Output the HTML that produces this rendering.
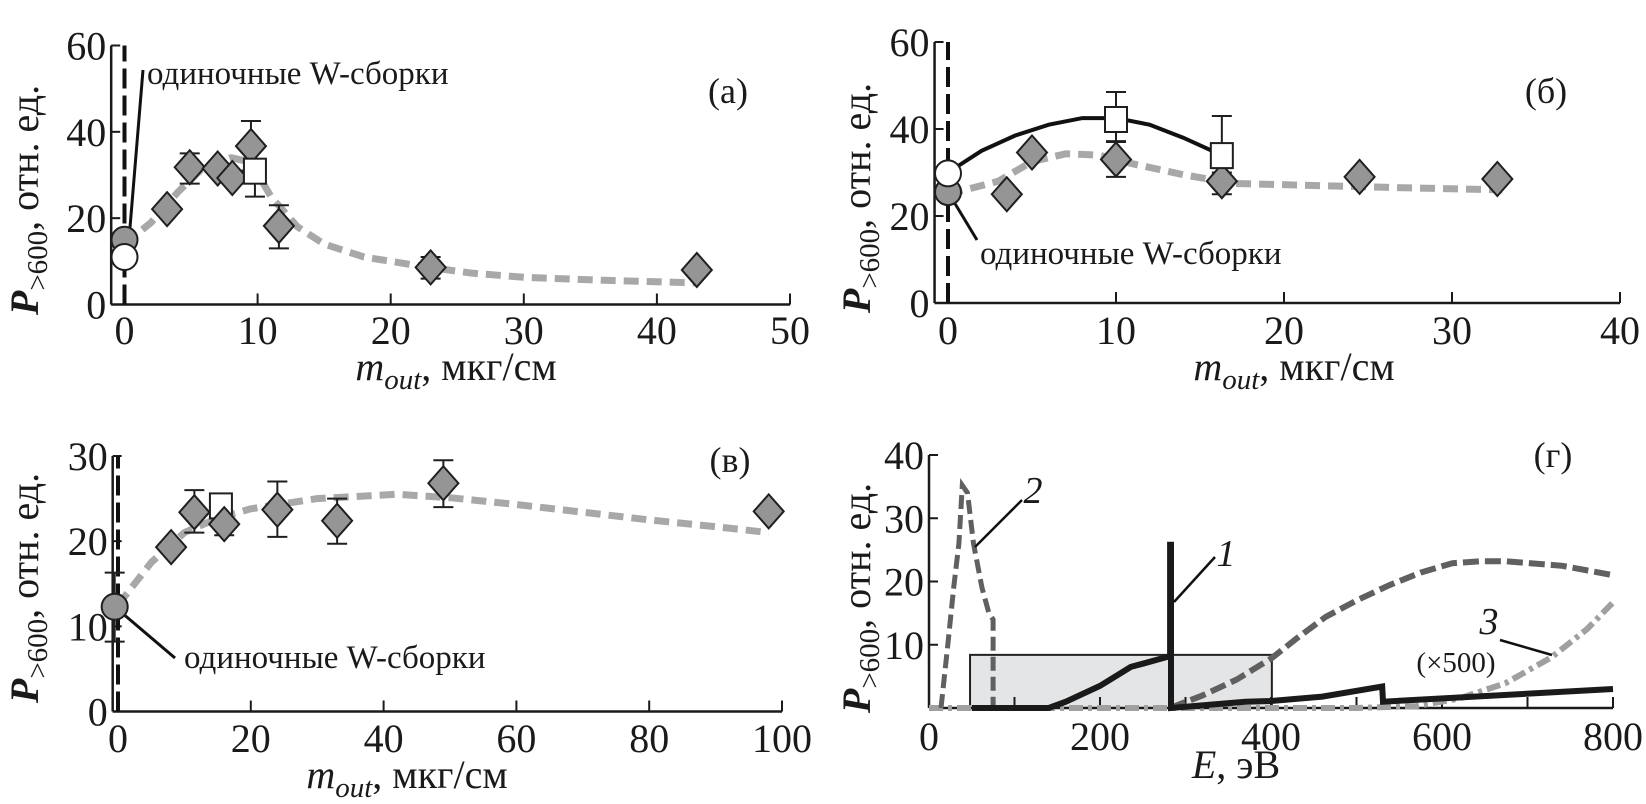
<!DOCTYPE html>
<html><head><meta charset="utf-8">
<style>
html,body{margin:0;padding:0;background:#fff;}
svg{display:block;}
svg text{font-family:"Liberation Serif","DejaVu Serif",serif;}
</style></head>
<body>
<svg id="fig" width="1646" height="804" viewBox="0 0 1646 804" xmlns="http://www.w3.org/2000/svg" font-family="Liberation Serif, DejaVu Serif, serif"></svg>
<script>
// ---- Panel (a) data ----
const aDiamX=[3.2,4.9,7,8.1,9.5,11.6,23,43];
const aDiamY=[22.1,31.8,31.5,29.3,36.7,18.2,8.6,8];
const aDiamErrLo=[null,28,null,null,31,13,6,null];
const aDiamErrHi=[null,35,null,null,42.5,23,11,null];
const aSqX=[9.8]; const aSqY=[31]; const aSqLo=[25]; const aSqHi=[37];
const aCircGrey=[0,15]; const aCircWhite=[0,11];
const aFitX=[0,2,4,6,8,9.5,11,13,15,18,22,26,30,36,43];
const aFitY=[14,19,26,32,34,33,25,18,14,11,9,7.3,6.3,5.6,5];
const aXTicks=[0,10,20,30,40,50]; const aYTicks=[0,20,40,60];
// ---- Panel (б) data ----
const bDiamX=[3.5,5,10,16.3,24.5,32.7];
const bDiamY=[25,34.6,33,28,29,28.5];
const bDiamLo=[null,null,29,25,null,null];
const bDiamHi=[null,null,37.2,31,null,null];
const bSqX=[10,16.3]; const bSqY=[42.3,34]; const bSqLo=[37,30]; const bSqHi=[48.5,43];
const bCircWhite=[0,29.8]; const bCircGrey=[0,25.5];
const bSolidX=[0,2,4,6,8,10,12,14,16];
const bSolidY=[30,35,38.5,41,42.5,42.5,41,38,34.5];
const bFitX=[0,3,5,7,9,11,14,17,22,27,33];
const bFitY=[25,28,32.5,34.3,34,32,29.5,27.5,27,26.5,26];
const bXTicks=[0,10,20,30,40]; const bYTicks=[0,20,40,60];
// ---- Panel (в) data ----
const cDiamX=[8,11.5,16,24,33,49,98];
const cDiamY=[19.3,23.4,22,23.7,22.4,26.8,23.5];
const cDiamLo=[null,21,20.7,20.5,19.7,24,null];
const cDiamHi=[null,26,null,27,25,29.5,null];
const cSqX=[15.5]; const cSqY=[24.2];
const cCirc=[-0.5,12.3]; const cCircLo=[8.2]; const cCircHi=[16.3];
const cFitX=[0,5,10,15,20,30,42,50,60,70,80,90,98];
const cFitY=[12.5,17.5,21,22.7,23.8,25,25.5,25.1,24.3,23.4,22.5,21.7,21];
const cXTicks=[0,20,40,60,80,100]; const cYTicks=[0,10,20,30];
// ---- Panel (г) data ----
const d1X=[50,140,160,200,236,250,282,282,283,283,370,400,460,530,531,800];
const d1Y=[0,0,1,3.5,6.5,7,8.2,25.8,25.8,0,1,1.1,1.8,3.4,1,3];
const d2aX=[14,22,29,35,39,45,52,62,70,75,75];
const d2aY=[0,10,19.2,26,35.2,34,26,19,15,14,0];
const d2bX=[282,320,360,401,430,464,500,538,575,612,645,674,740,800];
const d2bY=[0,2,4.5,7.9,11,14.4,17,19.4,21.4,22.9,23.2,23.2,22.5,21];
const d3X=[0,100,200,300,400,500,570,620,674,728,770,800];
const d3Y=[0,0,0,0,0,0,0.3,1.5,3.9,8,12.5,16.7];
const dRect=[48,401,8.4];
const dXTicks=[0,200,400,600,800]; const dYTicks=[10,20,30,40];

const FONT='"Liberation Serif","DejaVu Serif",serif';
const NS="http://www.w3.org/2000/svg";
const svg=document.getElementById('fig');
function mk(tag,attrs,parent){const e=document.createElementNS(NS,tag);for(const k in attrs)e.setAttribute(k,attrs[k]);(parent||svg).appendChild(e);return e;}
function txt(s,x,y,size,anchor,parent,style){const t=mk('text',{x:x,y:y,'font-size':size,'text-anchor':anchor||'middle',fill:'#1a1a1a'},parent);t.setAttribute('style','font-family:'+FONT+';'+(style||''));t.textContent=s;return t;}
function lin(x0,x1,p0,p1){return v=>p0+(v-x0)*(p1-p0)/(x1-x0);}
function poly(xs,ys,sx,sy){return xs.map((x,i)=>sx(x).toFixed(1)+','+sy(ys[i]).toFixed(1)).join(' ');}

function axes(g,sx,sy,xt,yt,xmin,xmax,ymax,xLabY){
  const x0=sx(xmin),y0=sy(0);
  const xa=mk('line',{x1:x0,y1:y0,x2:sx(xmax),y2:y0,stroke:'#1a1a1a','stroke-width':2.5},g);
  
  const ya=mk('line',{x1:x0,y1:y0,x2:x0,y2:sy(ymax),stroke:'#1a1a1a','stroke-width':2.5},g);
  
  xt.forEach(v=>{
    mk('line',{x1:sx(v),y1:y0,x2:sx(v),y2:y0-11,stroke:'#1a1a1a','stroke-width':2},g);
    const t=txt(String(v),sx(v),xLabY,40,'middle',g);
    
  });
  yt.forEach(v=>{
    mk('line',{x1:x0,y1:sy(v),x2:x0+9,y2:sy(v),stroke:'#1a1a1a','stroke-width':2},g);
    const t=txt(String(v),x0-5,sy(v)+14,40,'end',g);
    
  });
}
function ylabel(g,cx,cy){
  const t=mk('text',{transform:`translate(${cx},${cy}) rotate(-90)`,'text-anchor':'middle','font-size':40,fill:'#1a1a1a'},g);
  t.setAttribute('style','font-family:'+FONT);
  
  const a=mk('tspan',{'font-style':'italic','font-weight':'bold'},t);a.textContent='P';
  const b=mk('tspan',{dy:9,'font-size':29},t);b.textContent='>600';
  const c=mk('tspan',{dy:-9},t);c.textContent=', отн. ед.';
}
function xlabelM(g,cx,y){
  const t=mk('text',{x:cx,y:y,'text-anchor':'middle','font-size':40,fill:'#1a1a1a'},g);
  t.setAttribute('style','font-family:'+FONT);
  
  const a=mk('tspan',{'font-style':'italic'},t);a.textContent='m';
  const b=mk('tspan',{dy:9,'font-size':29,'font-style':'italic'},t);b.textContent='out';
  const c=mk('tspan',{dy:-9},t);c.textContent=', мкг/см';
}
function diamond(g,x,y){const h=15;const p=mk('polygon',{points:`${x},${y-h-2} ${x+h},${y} ${x},${y+h+2} ${x-h},${y}`,fill:'#959595',stroke:'#1f1f1f','stroke-width':2},g);}
function square(g,x,y){const p=mk('rect',{x:x-11,y:y-12,width:22,height:25,fill:'#fff',stroke:'#1f1f1f','stroke-width':2},g);}
function circle(g,x,y,fill){const p=mk('circle',{cx:x,cy:y,r:13,fill:fill,stroke:'#1f1f1f','stroke-width':2},g);}
function errbar(g,x,lo,hi){if(lo==null&&hi==null)return;
  const a=(lo!=null?lo:hi),b=(hi!=null?hi:lo);
  mk('line',{x1:x,y1:a,x2:x,y2:b,stroke:'#1f1f1f','stroke-width':2},g);
  if(lo!=null)mk('line',{x1:x-10,y1:lo,x2:x+10,y2:lo,stroke:'#1f1f1f','stroke-width':2},g);
  if(hi!=null)mk('line',{x1:x-10,y1:hi,x2:x+10,y2:hi,stroke:'#1f1f1f','stroke-width':2},g);}
function fit(g,xs,ys,sx,sy,name){const p=mk('polyline',{points:poly(xs,ys,sx,sy),fill:'none',stroke:'#a8a8a8','stroke-width':7,'stroke-dasharray':'15 8','stroke-linejoin':'round'},g);}
function vdash(g,x,y1,y2){const p=mk('line',{x1:x,y1:y1,x2:x,y2:y2,stroke:'#111','stroke-width':4,'stroke-dasharray':'20 7'},g);}

// ===== Panel a =====
(function(){
  const g=mk('g',{});
  const sx=lin(0,50,124.5,790), sy=lin(0,60,304.5,45.5);
  axes(g,sx,sy,aXTicks,aYTicks,-1,50,60,344);
  vdash(g,sx(0),sy(0),sy(60));
  fit(g,aFitX,aFitY,sx,sy,'fit-curve-a');
  mk('line',{x1:sx(0)+2,y1:sy(8),x2:143,y2:70,stroke:'#111','stroke-width':3},g);
  circle(g,sx(aCircGrey[0]),sy(aCircGrey[1]),'#959595');
  circle(g,sx(aCircWhite[0]),sy(aCircWhite[1]),'#fff');
  aDiamX.forEach((x,i)=>{errbar(g,sx(x),aDiamErrLo[i]==null?null:sy(aDiamErrLo[i]),aDiamErrHi[i]==null?null:sy(aDiamErrHi[i]));});
  aSqX.forEach((x,i)=>errbar(g,sx(x),sy(aSqLo[i]),sy(aSqHi[i])));
  aDiamX.forEach((x,i)=>diamond(g,sx(x),sy(aDiamY[i])));
  aSqX.forEach((x,i)=>square(g,sx(x),sy(aSqY[i])));
  const l=txt('одиночные W-сборки',147,84,33,'start',g);
  const p=txt('(a)',728,103,36,'middle',g);
  ylabel(g,38,200); xlabelM(g,456,380);
})();
// ===== Panel б =====
(function(){
  const g=mk('g',{});
  const sx=lin(0,40,948,1620), sy=lin(0,60,303,42);
  axes(g,sx,sy,bXTicks,bYTicks,-0.8,40,60,344);
  vdash(g,sx(0),sy(0),sy(60));
  fit(g,bFitX,bFitY,sx,sy,'fit-curve-b');
  const s=mk('polyline',{points:poly(bSolidX,bSolidY,sx,sy),fill:'none',stroke:'#111','stroke-width':4},g);
  
  mk('line',{x1:sx(0)+4,y1:sy(24),x2:977,y2:240,stroke:'#111','stroke-width':3},g);
  circle(g,sx(bCircGrey[0]),sy(bCircGrey[1]),'#959595');
  circle(g,sx(bCircWhite[0]),sy(bCircWhite[1]),'#fff');
  bDiamX.forEach((x,i)=>errbar(g,sx(x),bDiamLo[i]==null?null:sy(bDiamLo[i]),bDiamHi[i]==null?null:sy(bDiamHi[i])));
  bSqX.forEach((x,i)=>errbar(g,sx(x),sy(bSqLo[i]),sy(bSqHi[i])));
  bDiamX.forEach((x,i)=>diamond(g,sx(x),sy(bDiamY[i])));
  bSqX.forEach((x,i)=>square(g,sx(x),sy(bSqY[i])));
  const l=txt('одиночные W-сборки',980,264,33,'start',g);
  const p=txt('(б)',1546,103,36,'middle',g);
  ylabel(g,870,198); xlabelM(g,1294,380);
})();
// ===== Panel в =====
(function(){
  const g=mk('g',{});
  const sx=lin(0,100,118,782), sy=lin(0,30,711.5,456);
  axes(g,sx,sy,cXTicks,cYTicks,-0.8,100,30,752);
  vdash(g,sx(0),sy(0),sy(30));
  fit(g,cFitX,cFitY,sx,sy,'fit-curve-c');
  errbar(g,sx(cCirc[0]),sy(cCircLo[0]),sy(cCircHi[0]));
  mk('line',{x1:sx(cCirc[0]),y1:sy(cCirc[1]),x2:175,y2:658,stroke:'#111','stroke-width':3},g);
  circle(g,sx(cCirc[0]),sy(cCirc[1]),'#959595');
  cDiamX.forEach((x,i)=>errbar(g,sx(x),cDiamLo[i]==null?null:sy(cDiamLo[i]),cDiamHi[i]==null?null:sy(cDiamHi[i])));
  cSqX.forEach((x,i)=>square(g,sx(x),sy(cSqY[i])));
  cDiamX.forEach((x,i)=>diamond(g,sx(x),sy(cDiamY[i])));
  const l=txt('одиночные W-сборки',184,668,33,'start',g);
  const p=txt('(в)',730,472,36,'middle',g);
  ylabel(g,38,588); xlabelM(g,407,788);
})();
// ===== Panel г =====
(function(){
  const g=mk('g',{});
  const sx=lin(0,800,929,1613), sy=lin(0,40,708,455);
  const r=mk('rect',{x:sx(dRect[0]),y:sy(dRect[2]),width:sx(dRect[1])-sx(dRect[0]),height:sy(0)-sy(dRect[2]),fill:'#e4e5e7',stroke:'#222','stroke-width':2},g);
  
  const y0=sy(0);
  mk('line',{x1:sx(0),y1:y0,x2:sx(800),y2:y0,stroke:'#1a1a1a','stroke-width':2.5},g);
  mk('line',{x1:sx(0),y1:y0,x2:sx(0),y2:sy(40),stroke:'#1a1a1a','stroke-width':2.5},g);
  for(let v=100;v<=800;v+=100) mk('line',{x1:sx(v),y1:y0,x2:sx(v),y2:y0-11,stroke:'#1a1a1a','stroke-width':2},g);
  dXTicks.forEach(v=>{const t=txt(String(v),sx(v),750,40,'middle',g);});
  dYTicks.forEach(v=>{mk('line',{x1:sx(0),y1:sy(v),x2:sx(0)+9,y2:sy(v),stroke:'#1a1a1a','stroke-width':2},g);
    const t=txt(String(v),sx(0)-5,sy(v)+14,40,'end',g);});
  const c3=mk('polyline',{points:poly(d3X,d3Y,sx,sy),fill:'none',stroke:'#a0a0a0','stroke-width':6,'stroke-dasharray':'14 5 4 5'},g);
  
  const c2a=mk('polyline',{points:poly(d2aX,d2aY,sx,sy),fill:'none',stroke:'#606060','stroke-width':5,'stroke-dasharray':'14 6'},g);
  
  const c2b=mk('polyline',{points:poly(d2bX,d2bY,sx,sy),fill:'none',stroke:'#606060','stroke-width':6,'stroke-dasharray':'16 6','stroke-linejoin':'round'},g);
  
  const c1=mk('polyline',{points:poly(d1X,d1Y,sx,sy),fill:'none',stroke:'#1a1a1a','stroke-width':6},g);
  
  mk('line',{x1:975,y1:547,x2:1022,y2:500,stroke:'#111','stroke-width':2.5},g);
  mk('line',{x1:1174,y1:602,x2:1215,y2:557,stroke:'#111','stroke-width':2.5},g);
  mk('line',{x1:1500,y1:640,x2:1552,y2:655,stroke:'#111','stroke-width':2.5},g);
  const l2=txt('2',1033,503,38,'middle',g,'font-style:italic');
  const l1=txt('1',1226,566,38,'middle',g,'font-style:italic');
  const l3=txt('3',1489,634,38,'middle',g,'font-style:italic');
  const l5=txt('(×500)',1456,672,29,'middle',g);
  const p=txt('(г)',1553,467,36,'middle',g);
  ylabel(g,870,598);
  const t=mk('text',{x:1236,y:778,'text-anchor':'middle','font-size':40,fill:'#1a1a1a'},g);
  t.setAttribute('style','font-family:'+FONT);
  
  const a=mk('tspan',{'font-style':'italic'},t);a.textContent='E';
  const b=mk('tspan',{},t);b.textContent=', эВ';
})();
</script>
</body></html>
